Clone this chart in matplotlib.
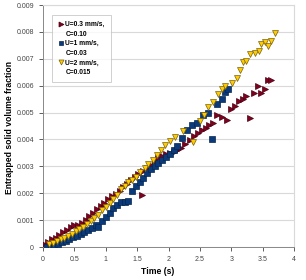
import matplotlib.pyplot as plt
from matplotlib.lines import Line2D

plt.rcParams['font.family'] = ['Liberation Sans', 'DejaVu Sans']

# series
red_x = [0.02, 0.08, 0.14, 0.20, 0.26, 0.32, 0.38, 0.44, 0.50, 0.56, 0.62, 0.68, 0.74, 0.80, 0.86, 0.92, 0.98,
         1.04, 1.10, 1.16, 1.22, 1.28, 1.34, 1.40, 1.46, 1.52, 1.57, 1.60, 1.66, 1.72, 1.78, 1.84, 1.90, 1.96,
         2.02, 2.08, 2.14, 2.20, 2.27, 2.34, 2.41, 2.47, 2.53, 2.59, 2.65, 2.71, 2.77, 2.85, 2.93,
         3.00, 3.06, 3.12, 3.18, 3.24, 3.30, 3.36, 3.42, 3.48, 3.53, 3.58, 3.63]
red_y = [0.00010, 0.00020, 0.00028, 0.00035, 0.00045, 0.00055, 0.00065, 0.00074, 0.00080, 0.00082,
         0.00088, 0.00102, 0.00115, 0.00128, 0.00140, 0.00152, 0.00165, 0.00178, 0.00190, 0.00198,
         0.00210, 0.00225, 0.00235, 0.00248, 0.00262, 0.00272,
         0.00194, 0.00282, 0.00292, 0.00305, 0.00318, 0.00330, 0.00338, 0.00345,
         0.00350, 0.00352, 0.00360, 0.00370, 0.00382, 0.00398, 0.00412, 0.00425, 0.00435, 0.00442,
         0.00452, 0.00462, 0.00490, 0.00482, 0.00472,
         0.00515, 0.00525, 0.00542, 0.00552, 0.00560, 0.00480, 0.00572, 0.00598, 0.00572, 0.00588,
         0.00622, 0.00620]

blue_x = [0.07, 0.12, 0.18, 0.24, 0.30, 0.36, 0.42, 0.48, 0.54, 0.60, 0.66, 0.72, 0.78, 0.84, 0.88,
          0.94, 1.00, 1.06, 1.12, 1.18, 1.24, 1.30, 1.36, 1.42, 1.48, 1.54, 1.60, 1.66, 1.72, 1.78,
          1.84, 1.90, 1.96, 2.02, 2.08, 2.14, 2.22, 2.30, 2.38, 2.46, 2.55, 2.63, 2.69, 2.78, 2.85,
          2.90, 2.95]
blue_y = [0.00000, 0.00004, 0.00008, 0.00013, 0.00018, 0.00024, 0.00030, 0.00036, 0.00042, 0.00048,
          0.00055, 0.00062, 0.00070, 0.00082, 0.00075,
          0.00095, 0.00110, 0.00125, 0.00145, 0.00158, 0.00168, 0.00168, 0.00172, 0.00210, 0.00228,
          0.00240, 0.00255, 0.00275, 0.00290, 0.00302, 0.00312, 0.00322, 0.00335,
          0.00345, 0.00360, 0.00375, 0.00405, 0.00435, 0.00452, 0.00462, 0.00490, 0.00500, 0.00400,
          0.00530, 0.00550, 0.00578, 0.00586]

yel_x = [0.10, 0.16, 0.22, 0.28, 0.34, 0.40, 0.46, 0.52, 0.58, 0.64, 0.70, 0.76, 0.82, 0.88, 0.94,
         1.00, 1.06, 1.12, 1.18, 1.24, 1.30, 1.36, 1.42, 1.48, 1.55, 1.62, 1.68, 1.75, 1.81, 1.88,
         1.94, 2.02, 2.10, 2.23, 2.39, 2.50, 2.57, 2.63, 2.71, 2.79, 2.85, 2.90,
         3.01, 3.09, 3.14, 3.18, 3.24, 3.30, 3.38, 3.44, 3.48, 3.53, 3.58, 3.64, 3.69]
yel_y = [0.00010, 0.00016, 0.00022, 0.00028, 0.00034, 0.00042, 0.00050, 0.00058, 0.00066, 0.00075,
         0.00085, 0.00095, 0.00108, 0.00120, 0.00138, 0.00150, 0.00165, 0.00180, 0.00195, 0.00215,
         0.00228, 0.00240, 0.00250, 0.00260,
         0.00280, 0.00295, 0.00308, 0.00325, 0.00343, 0.00362, 0.00380,
         0.00395, 0.00410, 0.00430, 0.00390, 0.00470, 0.00492, 0.00520, 0.00540, 0.00570, 0.00586,
         0.00600,
         0.00610, 0.00630, 0.00660, 0.00688, 0.00690, 0.00718, 0.00722, 0.00730, 0.00754, 0.00762,
         0.00746, 0.00766, 0.00796]

labels_u = ["U=0.3 mm/s,", "U=1 mm/s,", "U=2 mm/s,"]
labels_c = ["C=0.10", "C=0.03", "C=0.015"]
x_ticks = [0, 0.5, 1, 1.5, 2, 2.5, 3, 3.5, 4]
x_labels = ["0", "0.5", "1", "1.5", "2", "2.5", "3", "3.5", "4"]
y_ticks = [0, 0.001, 0.002, 0.003, 0.004, 0.005, 0.006, 0.007, 0.008, 0.009]
y_labels = ["0", "0.001", "0.002", "0.003", "0.004", "0.005", "0.006", "0.007", "0.008", "0.009"]

fig = plt.figure(figsize=(3.06, 2.80), dpi=100)
ax = fig.add_axes([43/306, 33/280, 251/306, 242/280])

h1, = ax.plot(red_x, red_y, ls="none", marker=">", ms=4.8, mfc="#800020", mec="#4a0010", mew=0.5, zorder=3)
h2, = ax.plot(blue_x, blue_y, ls="none", marker="s", ms=4.0, mfc="#0a3a7a", mec="#06264f", mew=0.5, zorder=3)
h3, = ax.plot(yel_x, yel_y, ls="none", marker="v", ms=4.8, mfc="#ffcc00", mec="#7a6010", mew=0.5, zorder=3)

ax.set_xlim(0, 4)
ax.set_ylim(0, 0.009)
ax.set_xticks(x_ticks, x_labels)
ax.set_yticks(y_ticks, y_labels)
ax.tick_params(labelsize=5, colors="#444444", length=3, width=0.6)
ax.yaxis.grid(True, color="#d9d9d9", lw=0.8)
ax.set_axisbelow(True)
for s in ["top", "right"]:
    ax.spines[s].set_color("#d9d9d9")
for s in ["left", "bottom"]:
    ax.spines[s].set_color("#888888")
    ax.spines[s].set_linewidth(0.7)

fig.text(158/306, 1 - 272/280, "Time (s)", fontsize=6.2, fontweight="bold", ha="center", va="center")
fig.text(10/306, 1 - 128/280, "Entrapped solid volume fraction", fontsize=6.2, fontweight="bold",
         rotation=90, ha="center", va="center")

# marker sits on the first line of each two-line entry
blank = Line2D([], [], ls="none")
handles = [h1, blank, h2, blank, h3, blank]
labels = [labels_u[0], labels_c[0], labels_u[1], labels_c[1], labels_u[2], labels_c[2]]
leg = ax.legend(handles, labels, loc="upper left", bbox_to_anchor=(9/251, 1 - 10/242),
                prop={"weight": "bold", "size": 4.8}, frameon=True, fancybox=False,
                handletextpad=0.3, handlelength=0.8, borderpad=0.9, labelspacing=0.4,
                borderaxespad=0, markerscale=0.75)
leg.get_frame().set_edgecolor("#bbbbbb")
leg.get_frame().set_linewidth(0.6)

fig.savefig("out.png", dpi=100)
